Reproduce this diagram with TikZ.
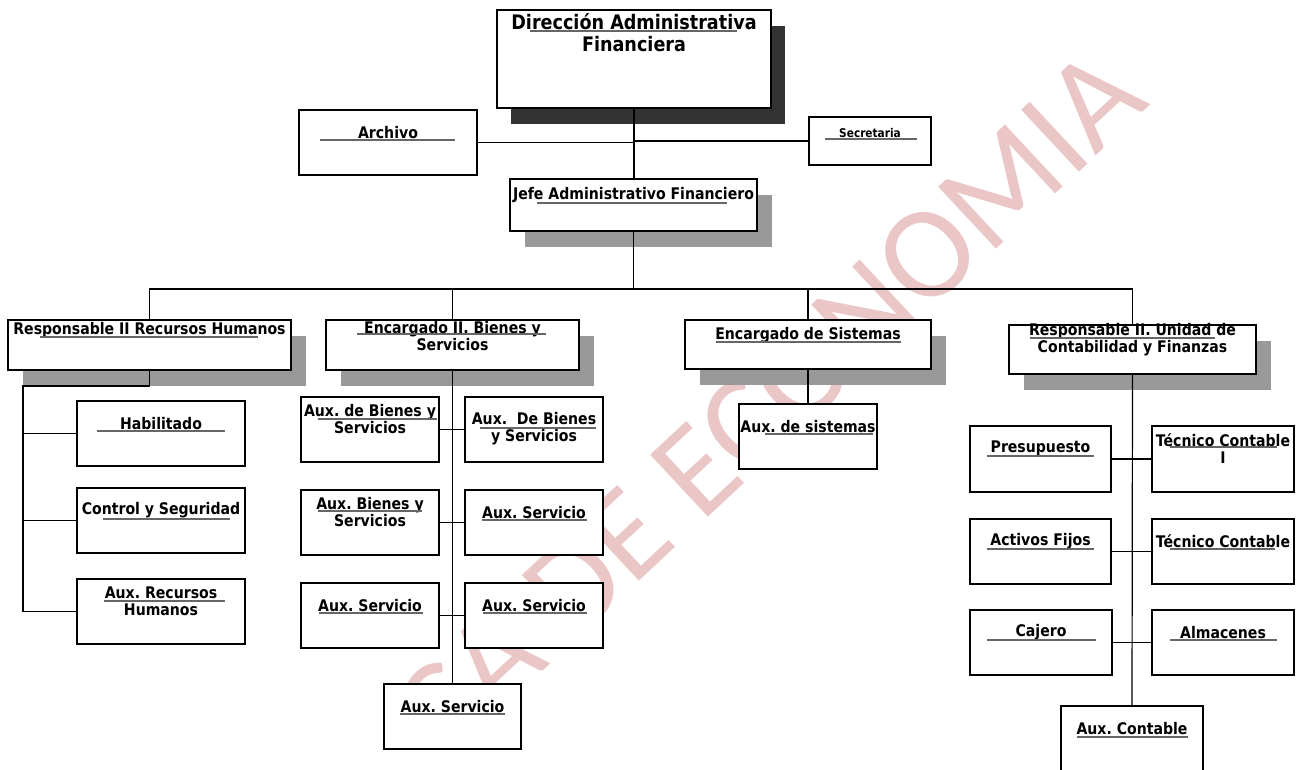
\documentclass[tikz,border=0pt]{standalone}
\usepackage{fontspec}
\setmainfont{DejaVu Sans}[FakeStretch=0.88]
\newfontfamily\wmfont{Carlito}
\usepackage{tikz}
\usetikzlibrary{shadows}
\definecolor{wmpink}{RGB}{234,198,198}

\begin{document}
\frenchspacing
\begin{tikzpicture}[x=0.5pt, y=-0.5pt, semithick,
    box/.style={rectangle, draw=black, fill=white, inner sep=0pt},
    dims/.style 2 args={minimum width=#1*0.5pt, minimum height=#2*0.5pt},
    lab/.style={anchor=center, yshift=-#1*0.5pt, align=center, inner sep=0pt, font=\fontsize{8}{8.5}\selectfont\bfseries},
    aux/.style 2 args={box, dims={#1}{65}, label={[lab=23]north:{#2}}},
    darkshadow/.style={drop shadow={shadow xshift=7pt, shadow yshift=-8pt, fill=black!80, opacity=1}},
    greyshadow/.style={drop shadow={shadow xshift=7.5pt, shadow yshift=-8pt, fill=black!40, opacity=1}},
    uline/.style={draw=black!60, line width=0.6pt},
    marca/.style={rotate=43, text=wmpink, inner sep=0pt, font=\wmfont\fontsize{66}{66}\selectfont}]
\useasboundingbox (0,0) rectangle (1301,770);

% marca de agua
\begin{scope}
\clip (0,0) rectangle (1301,770);
\node (Marca) [marca] at (769,403) {CA DE ECONOMIA};
\end{scope}

% direccion
\node (Direccion) [box, dims={274}{98}, darkshadow, label={[lab=23, font=\fontsize{10}{11}\selectfont\bfseries]north:{Dirección Administrativa\\Financiera}}] at (634,59) {};
\node (Archivo) [box, dims={178}{65}, label={[lab=23]north:Archivo}] at (388,142.5) {};
\node (Secretaria) [box, dims={122}{48}, label={[lab=17, font=\fontsize{6}{6}\selectfont\bfseries]north:Secretaria}] at (870,141) {};
\node (Jefe) [box, dims={247}{52}, greyshadow, label={[lab=17]north:Jefe Administrativo Financiero}] at (633.5,205) {};

% segundo nivel
\node (RRHH) [box, dims={283}{50}, greyshadow, label={[lab=11]north:Responsable II Recursos Humanos}] at (149.5,345) {};
\node (Bienes) [box, dims={253}{50}, greyshadow, label={[lab=16.5]north:{Encargado II. Bienes y\\Servicios}}] at (452.5,345) {};
\node (Sistemas) [box, dims={246}{49}, greyshadow, label={[lab=16]north:Encargado de Sistemas}] at (808,344.5) {};
\node (Contabilidad) [box, dims={247}{49}, greyshadow, label={[lab=15.5]north:{Responsable II. Unidad de\\Contabilidad y Finanzas}}] at (1132.5,349.5) {};

% recursos humanos
\node (Habilitado) [aux={168}{Habilitado}] at (161,433.5) {};
\node (Control) [aux={168}{Control y Seguridad}] at (161,520.5) {};
\node (AuxRRHH) [aux={168}{Aux. Recursos\\Humanos}] at (161,611.5) {};

% bienes y servicios
\node (AuxBienesA) [aux={138}{Aux. de Bienes y\\Servicios}] at (370,429.5) {};
\node (AuxBienesB) [box, dims={138}{65}, label={[lab=32]north:{Aux.\ \ De Bienes\\y Servicios}}] at (534,429.5) {};
\node (AuxBienesC) [aux={138}{Aux. Bienes y\\Servicios}] at (370,522.5) {};
\node (AuxServicioA) [aux={138}{Aux. Servicio}] at (534,522.5) {};
\node (AuxServicioB) [aux={138}{Aux. Servicio}] at (370,615.5) {};
\node (AuxServicioC) [aux={138}{Aux. Servicio}] at (534,615.5) {};
\node (AuxServicioD) [aux={137}{Aux. Servicio}] at (452.5,716.5) {};

% sistemas
\node (AuxSistemas) [aux={138}{Aux. de sistemas}] at (808,436.5) {};

% contabilidad
\node (Presupuesto) [aux={141}{Presupuesto}, dims={141}{66}] at (1040.5,459) {};
\node (TecnicoA) [aux={142}{Técnico Contable\\I}, dims={142}{66}] at (1223,459) {};
\node (Activos) [aux={141}{Activos Fijos}] at (1040.5,551.5) {};
\node (TecnicoB) [aux={142}{Técnico Contable}] at (1223,551.5) {};
\node (Cajero) [aux={142}{Cajero}] at (1041,642.5) {};
\node (Almacenes) [aux={142}{Almacenes}] at (1223,642.5) {};
\node (AuxContable) [aux={142}{Aux. Contable}] at (1132,738.5) {};

% lineas
\coordinate (Bus) at (634,289);
\coordinate (RHEje) at (23,386);
\draw (Direccion.south) -- (Direccion.south |- Jefe.north);
\draw (Archivo.east) -- (Archivo.east -| Direccion.south);
\draw (Secretaria.west) -- (Secretaria.west -| Direccion.south);
\draw (Jefe.south) -- (Jefe.south |- Bus);
\draw (RRHH.north) |- (Bus) -| (Contabilidad.north);
\draw (Bienes.north) -- (Bienes.north |- Bus);
\draw (Sistemas.north) -- (Sistemas.north |- Bus);

\draw (RRHH.south) |- (RHEje) -- (RHEje |- AuxRRHH.west) -- (AuxRRHH.west);
\draw (Habilitado.west) -- (Habilitado.west -| RHEje);
\draw (Control.west) -- (Control.west -| RHEje);

\draw (Bienes.south) -- (AuxServicioD.north);
\draw (AuxBienesA.east) -- (AuxBienesB.west);
\draw (AuxBienesC.east) -- (AuxServicioA.west);
\draw (AuxServicioB.east) -- (AuxServicioC.west);

\draw (Sistemas.south) -- (AuxSistemas.north);

\draw (Contabilidad.south) -- (AuxContable.north);
\draw (Presupuesto.east) -- (TecnicoA.west);
\draw (Activos.east) -- (TecnicoB.west);
\draw (Cajero.east) -- (Almacenes.west);

% subrayados
\foreach \xa/\xb/\yy in {530/737/31, 320/455/140, 825/917/139, 537/727/203, 40/258/337,
    357/546/334, 716/901/342, 1030/1215/338, 97/225/431, 103/230/519, 104/225/601,
    318/437/419, 480/596/428, 318/422/511, 482/587/520, 319/423/613, 483/587/613,
    400/505/714, 765/873/434, 987/1094/456, 1170/1277/447, 987/1094/549,
    1170/1275/549, 987/1096/640, 1170/1277/640, 1077/1188/737}
    \draw[uline] (\xa,\yy) -- (\xb,\yy);
\end{tikzpicture}
\end{document}
